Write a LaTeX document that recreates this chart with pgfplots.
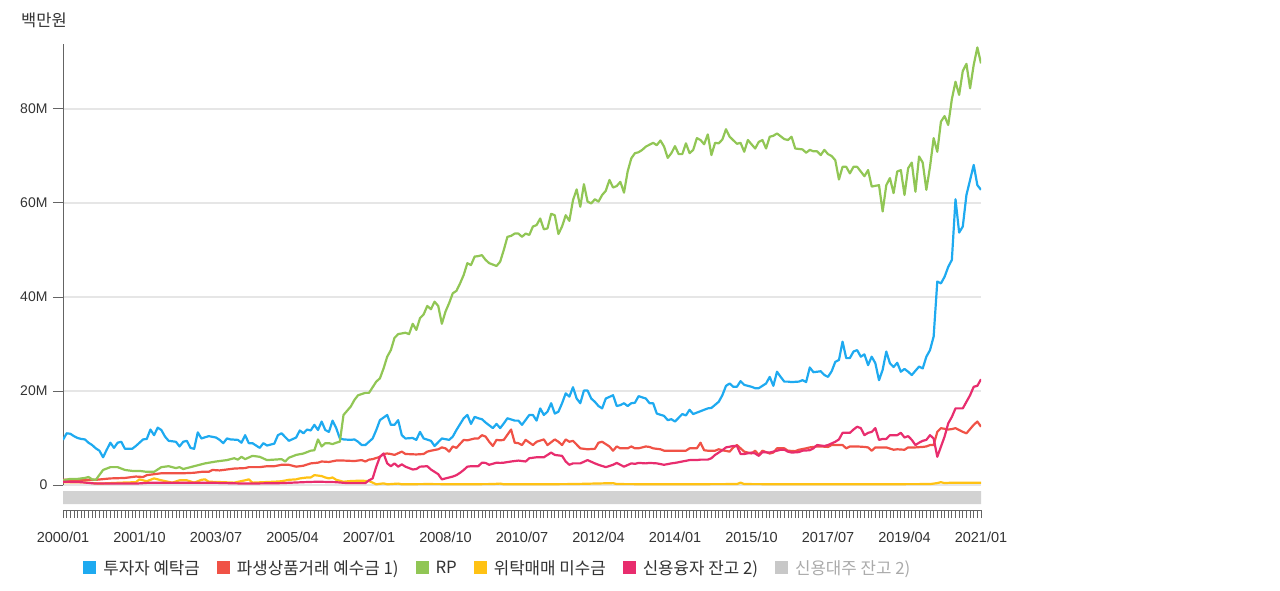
\documentclass[border=0pt]{standalone}
\usepackage{fontspec}
\setmainfont{Liberation Sans}
\newfontfamily\kr{Noto Sans CJK KR}
\usepackage{pgfplots}
\pgfplotsset{compat=1.18}
\definecolor{cblue}{RGB}{30,170,240}
\definecolor{cred}{RGB}{240,82,70}
\definecolor{cgreen}{RGB}{145,198,85}
\definecolor{cyellow}{RGB}{255,194,20}
\definecolor{cmag}{RGB}{232,45,110}
\definecolor{bandgray}{RGB}{210,210,210}
\definecolor{gridgray}{RGB}{230,230,230}
\definecolor{axisgray}{RGB}{100,100,100}
\definecolor{labelgray}{RGB}{51,51,51}
\definecolor{lgray}{RGB}{200,200,200}
\definecolor{ltext}{RGB}{170,170,170}
\begin{document}
\begin{tikzpicture}
\path[use as bounding box] (0,0) rectangle (1280pt,590pt);
\begin{axis}[
  at={(63pt,105pt)}, anchor=south west,
  scale only axis, width=918pt, height=441pt,
  xmin=0, xmax=252, ymin=0, ymax=93.83,
  axis y line*=left, axis x line=none,
  y axis line style={-, draw=axisgray, line width=1pt},
  ytick={0,20,40,60,80}, yticklabels={0,20M,40M,60M,80M},
  ymajorgrids, grid style={draw=gridgray, line width=1.2pt},
  tick align=outside, major tick length=10pt,
  ytick style={draw=axisgray, line width=1pt},
  yticklabel style={font=\fontsize{14pt}{14pt}\selectfont, text=labelgray, xshift=-2pt},
  ylabel={\kr 백만원},
  ylabel style={rotate=-90, at={(axis description cs:-0.0207,1.0544)}, anchor=center, font=\kr\fontsize{16.5pt}{16.5pt}\selectfont, text=labelgray},
  legend style={at={(axis description cs:0.0220,-0.1700)}, anchor=north west, draw=none, fill=none, inner sep=0pt,
    font=\kr\fontsize{16.8pt}{16.8pt}\selectfont, text=labelgray,
    /tikz/every odd column/.append style={column sep=7pt},
    /tikz/every even column/.append style={column sep=17pt},
    nodes={inner sep=0pt}},
  legend columns=-1,
  legend image code/.code={\fill[#1, draw=none] (0pt,-6.5pt) rectangle (13pt,6.5pt);},
  every axis plot/.append style={line width=2.2pt, line join=round},
]
\addplot[color=cblue] coordinates {(0,9.6)(1,11.0)(2,10.9)(3,10.4)(4,10.0)(5,9.8)(6,9.7)(7,9.0)(8,8.5)(9,7.8)(10,7.3)(11,5.9)(12,7.5)(13,9.0)(14,7.9)(15,9.0)(16,9.2)(17,7.7)(19,7.7)(20,8.3)(22,9.7)(23,9.8)(24,11.8)(25,10.6)(26,12.2)(27,11.7)(28,10.3)(29,9.4)(31,9.2)(32,8.2)(33,9.2)(34,9.4)(35,7.9)(36,7.7)(37,11.2)(38,9.9)(40,10.4)(42,10.1)(43,9.6)(44,8.9)(45,9.9)(46,9.7)(48,9.6)(49,9.0)(50,10.6)(51,8.9)(52,8.9)(54,7.9)(55,8.9)(56,8.4)(58,8.8)(59,10.6)(60,11.0)(62,9.4)(64,10.1)(65,11.6)(66,11.0)(67,11.8)(68,11.6)(69,12.8)(70,11.7)(71,13.5)(72,11.7)(73,11.3)(74,13.7)(75,12.1)(76,9.9)(77,9.7)(79,9.6)(80,9.7)(81,9.2)(82,8.5)(83,8.5)(85,9.9)(86,11.7)(87,13.8)(89,14.9)(90,12.8)(91,12.8)(92,13.8)(93,10.6)(94,9.9)(96,10.0)(97,9.6)(98,11.3)(99,9.9)(101,9.4)(102,8.3)(104,9.9)(106,9.6)(107,10.3)(108,11.7)(110,14.2)(111,14.9)(112,13.0)(113,14.5)(114,14.2)(115,14.0)(116,13.3)(118,12.1)(119,13.0)(120,12.1)(121,13.1)(122,14.2)(124,13.7)(125,13.7)(126,12.8)(128,14.9)(129,14.9)(130,13.7)(131,16.3)(132,14.9)(133,15.6)(134,17.4)(135,15.2)(136,15.6)(137,17.4)(138,19.5)(139,18.8)(140,20.8)(141,18.4)(142,17.4)(143,20.1)(144,20.1)(145,18.4)(146,17.7)(147,16.8)(148,16.3)(149,18.4)(151,19.1)(152,16.8)(153,17.0)(154,17.4)(155,16.8)(156,17.4)(157,17.5)(158,18.9)(160,18.4)(161,17.4)(162,17.4)(163,15.2)(165,14.7)(166,13.8)(167,14.0)(168,13.5)(170,15.1)(171,14.8)(172,16.0)(173,15.1)(175,15.7)(177,16.3)(178,16.4)(180,17.7)(181,19.1)(182,21.1)(183,21.6)(184,20.9)(185,20.9)(186,22.1)(187,21.3)(189,20.9)(190,20.6)(191,20.6)(193,21.6)(194,23.0)(195,21.1)(196,24.1)(197,23.0)(198,22.0)(199,22.0)(200,21.9)(202,22.0)(203,22.3)(204,21.9)(205,25.0)(206,24.0)(208,24.2)(209,23.4)(210,23.0)(211,24.2)(212,26.2)(213,26.6)(214,30.5)(215,27.0)(216,27.0)(217,28.4)(218,28.7)(219,27.3)(220,27.8)(221,25.5)(222,27.3)(223,25.9)(224,22.3)(225,24.5)(226,28.4)(227,25.9)(228,25.1)(229,26.0)(230,24.1)(231,24.7)(232,24.1)(233,23.4)(235,25.2)(236,24.8)(237,27.3)(238,28.7)(239,31.6)(240,43.3)(241,42.9)(242,44.3)(243,46.4)(244,47.9)(245,60.8)(246,53.7)(247,55.0)(248,61.7)(249,64.9)(250,68.1)(251,63.8)(252,62.8)};
\addlegendentry{투자자 예탁금}
\addplot[color=cred] coordinates {(0,1.1)(9,1.1)(13,1.4)(17,1.5)(20,1.8)(22,1.7)(23,2.1)(25,2.3)(27,2.5)(30,2.5)(33,2.5)(36,2.6)(38,2.8)(40,2.8)(41,3.2)(43,3.1)(45,3.3)(47,3.5)(50,3.6)(51,3.8)(54,3.8)(56,4.0)(58,4.0)(60,4.3)(62,4.3)(64,3.9)(66,4.1)(68,4.6)(70,4.75)(71,5.0)(73,4.9)(75,5.2)(77,5.2)(80,5.1)(82,5.3)(83,5.0)(84,5.4)(85,5.5)(87,6.0)(88,6.6)(89,6.7)(90,6.6)(91,6.4)(93,7.1)(94,6.6)(97,6.5)(99,6.6)(100,7.1)(101,7.3)(103,7.6)(104,8.0)(105,7.8)(106,7.1)(107,8.2)(108,7.9)(110,9.6)(111,9.5)(113,9.9)(114,9.9)(115,10.6)(116,10.3)(117,9.2)(118,8.3)(119,9.6)(120,9.5)(121,9.6)(123,11.8)(124,9.0)(125,8.9)(126,8.5)(127,9.6)(129,8.5)(130,9.2)(132,9.7)(133,8.5)(135,9.7)(136,9.2)(137,8.5)(138,9.7)(139,9.2)(140,9.4)(142,7.8)(144,7.6)(146,7.7)(147,9.0)(148,9.2)(150,8.2)(151,7.3)(152,8.2)(153,7.8)(155,7.8)(156,8.2)(157,7.8)(158,7.8)(160,8.2)(161,8.1)(162,7.8)(164,7.6)(165,7.3)(167,7.3)(169,7.3)(171,7.3)(172,7.8)(174,7.8)(175,9.0)(176,7.4)(177,7.3)(179,7.3)(180,7.6)(181,7.4)(183,7.1)(184,8.0)(185,8.5)(186,7.8)(187,7.1)(189,6.7)(190,7.3)(191,6.4)(192,7.3)(194,6.7)(195,6.9)(196,7.8)(198,7.8)(199,7.3)(201,7.2)(202,7.5)(204,7.8)(205,8.0)(207,8.2)(208,8.2)(210,8.1)(211,8.5)(212,8.5)(214,8.5)(215,7.8)(216,8.2)(218,8.2)(220,8.1)(221,8.0)(222,7.3)(223,8.0)(225,8.0)(226,8.0)(228,7.5)(229,7.6)(231,7.5)(232,8.0)(234,8.0)(236,8.1)(237,8.2)(238,8.5)(239,8.5)(240,11.3)(241,12.1)(243,11.8)(244,11.9)(245,12.1)(247,11.3)(248,11.0)(249,11.9)(250,12.8)(251,13.5)(252,12.4)};
\addlegendentry{파생상품거래 예수금 1)}
\addplot[color=cgreen] coordinates {(0,1.0)(2,1.3)(4,1.3)(6,1.5)(7,1.7)(8,1.2)(9,1.1)(11,3.2)(13,3.8)(15,3.8)(17,3.2)(19,3.0)(21,3.0)(23,2.8)(25,2.8)(27,3.8)(29,4.0)(31,3.6)(32,3.8)(33,3.4)(35,3.8)(38,4.4)(39,4.6)(42,5.0)(44,5.2)(45,5.3)(47,5.7)(48,5.4)(49,6.0)(50,5.5)(52,6.2)(54,6.0)(56,5.3)(58,5.4)(60,5.5)(61,5.0)(62,5.8)(64,6.4)(66,6.7)(68,7.3)(69,7.4)(70,9.7)(71,8.2)(72,8.9)(73,8.9)(74,8.7)(75,9.0)(76,9.2)(77,14.9)(79,16.7)(80,18.1)(81,19.1)(83,19.6)(84,19.6)(86,22.0)(87,22.7)(88,24.8)(89,27.3)(90,28.7)(91,31.3)(92,32.1)(94,32.4)(95,32.1)(96,34.3)(97,33.0)(98,35.5)(99,36.3)(100,38.1)(101,37.4)(102,39.0)(103,38.1)(104,34.3)(105,36.9)(106,38.7)(107,40.8)(108,41.3)(109,42.9)(110,44.7)(111,47.2)(112,46.8)(113,48.6)(114,48.7)(115,48.9)(116,47.9)(117,47.2)(119,46.6)(120,47.5)(121,50.0)(122,52.8)(123,53.0)(124,53.5)(125,53.5)(126,52.8)(127,53.5)(128,53.2)(129,55.0)(130,55.3)(131,56.7)(132,54.4)(133,54.6)(134,57.7)(135,57.4)(136,53.4)(137,55.0)(138,57.4)(139,56.2)(140,60.6)(141,62.9)(142,59.2)(143,64.0)(144,60.3)(145,59.9)(146,60.8)(147,60.3)(148,61.7)(149,62.6)(150,64.9)(151,63.3)(152,63.6)(153,64.5)(154,62.2)(155,66.7)(156,69.5)(157,70.6)(158,70.8)(159,71.3)(160,72.0)(162,72.8)(163,72.3)(164,73.3)(165,72.0)(166,69.6)(167,70.6)(168,72.1)(169,70.4)(170,70.4)(171,72.7)(172,70.6)(173,71.3)(174,73.8)(175,73.4)(176,72.5)(177,74.6)(178,70.2)(179,72.8)(180,72.7)(181,73.5)(182,75.7)(183,74.1)(185,72.6)(186,72.8)(187,70.9)(188,73.4)(190,71.6)(191,73.0)(192,73.4)(193,71.6)(194,74.1)(195,74.3)(196,74.8)(198,73.6)(199,73.4)(200,74.1)(201,71.6)(203,71.4)(204,70.7)(205,71.3)(206,71.0)(207,71.0)(208,70.2)(209,71.3)(210,70.4)(211,70.0)(212,69.1)(213,65.0)(214,67.7)(215,67.7)(216,66.3)(217,67.7)(218,67.7)(220,65.7)(221,67.0)(222,63.5)(224,63.8)(225,58.2)(226,63.8)(227,65.3)(228,62.1)(229,66.7)(230,67.0)(231,61.7)(232,67.4)(233,68.6)(234,62.4)(235,69.9)(236,68.6)(237,62.8)(238,67.7)(239,73.8)(240,70.9)(241,77.3)(242,78.5)(243,76.6)(244,82.1)(245,85.8)(246,83.0)(247,88.1)(248,89.6)(249,84.4)(250,89.4)(251,93.1)(252,89.7)};
\addlegendentry{RP}
\addplot[color=cyellow] coordinates {(0,0.6)(5,0.6)(10,0.3)(16,0.5)(20,0.6)(21,1.2)(23,0.8)(25,1.4)(27,1.0)(30,0.5)(32,1.0)(34,1.0)(36,0.5)(38,1.1)(39,1.2)(40,0.7)(44,0.6)(47,0.5)(50,1.0)(51,1.2)(52,0.5)(55,0.6)(58,0.7)(60,0.8)(62,1.1)(64,1.2)(65,1.4)(67,1.6)(68,1.6)(69,2.1)(71,1.9)(72,1.6)(73,1.4)(74,1.6)(75,1.1)(77,0.7)(79,0.85)(81,0.9)(82,0.9)(84,0.85)(85,0.5)(86,0.15)(88,0.35)(89,0.15)(92,0.3)(93,0.15)(100,0.2)(110,0.15)(118,0.2)(120,0.3)(121,0.15)(130,0.15)(140,0.2)(151,0.4)(152,0.2)(165,0.15)(185,0.2)(186,0.5)(187,0.2)(200,0.15)(220,0.15)(238,0.2)(240,0.4)(241,0.6)(242,0.4)(244,0.5)(252,0.5)};
\addlegendentry{위탁매매 미수금}
\addplot[color=cmag] coordinates {(0,0.7)(5,0.6)(9,0.3)(20,0.3)(24,0.5)(40,0.5)(50,0.3)(60,0.4)(66,0.6)(70,0.7)(75,0.6)(78,0.4)(83,0.4)(84,1.0)(85,1.4)(86,3.9)(87,6.0)(88,6.7)(89,4.6)(90,4.0)(91,4.6)(92,3.9)(93,4.4)(94,3.9)(96,3.3)(97,3.4)(98,3.9)(100,4.0)(101,3.3)(103,2.3)(104,1.2)(105,1.4)(107,1.8)(108,2.1)(109,2.6)(110,3.2)(111,3.9)(112,4.0)(114,4.0)(115,4.75)(116,4.7)(117,4.3)(119,4.75)(120,4.7)(121,4.75)(123,5.0)(125,5.2)(127,5.0)(128,5.7)(130,5.9)(132,5.9)(134,6.9)(135,6.4)(137,6.2)(138,5.0)(139,4.3)(140,4.6)(142,4.6)(144,5.3)(146,4.6)(147,4.3)(149,3.8)(151,4.3)(152,4.7)(153,4.3)(154,3.9)(156,4.6)(157,4.5)(158,4.7)(160,4.6)(161,4.7)(163,4.6)(165,4.3)(167,4.6)(168,4.7)(170,5.0)(172,5.3)(174,5.3)(175,5.4)(177,5.4)(178,5.7)(179,6.4)(181,7.4)(182,8.0)(184,8.3)(185,8.3)(186,6.6)(187,6.6)(189,6.9)(190,6.7)(191,6.2)(192,7.0)(194,6.9)(196,7.3)(197,7.5)(198,7.5)(199,7.1)(200,6.9)(202,7.0)(203,7.3)(205,7.4)(206,7.8)(207,8.5)(209,8.3)(210,8.5)(212,9.2)(213,9.7)(214,11.1)(216,11.1)(217,11.8)(218,12.4)(219,12.1)(220,10.6)(221,11.1)(222,11.3)(223,12.1)(224,9.6)(225,9.8)(226,9.8)(227,10.6)(229,10.6)(230,11.1)(231,10.1)(232,10.4)(233,9.6)(234,8.5)(235,9.0)(236,9.4)(237,9.6)(238,10.6)(239,9.9)(240,6.0)(242,10.3)(243,13.1)(244,14.5)(245,16.3)(247,16.3)(248,17.7)(249,19.1)(250,20.9)(251,21.1)(252,22.5)};
\addlegendentry{신용융자 잔고 2)}
\addlegendimage{color=lgray}
\addlegendentry{\textcolor{ltext}{신용대주 잔고 2)}}
\end{axis}
\begin{axis}[
  at={(63pt,80pt)}, anchor=south west,
  scale only axis, width=918pt, height=24pt,
  xmin=0, xmax=252, ymin=0, ymax=24,
  axis x line*=bottom, axis y line=none,
  x axis line style={-, draw=axisgray, line width=0.8pt},
  xtick={0,21,...,252}, minor xtick={0,1,...,252},
  xticklabels={2000/01,2001/10,2003/07,2005/04,2007/01,2008/10,2010/07,2012/04,2014/01,2015/10,2017/07,2019/04,2021/01},
  tick align=outside, major tick length=8pt, minor tick length=8pt,
  tick style={draw=axisgray, line width=0.8pt},
  xticklabel style={font=\fontsize{14.5pt}{14.5pt}\selectfont, text=labelgray, yshift=-10pt},
  clip=false,
]
\addplot[draw=none, fill=bandgray] coordinates {(0,6) (252,6) (252,19) (0,19) (0,6)};
\end{axis}
\end{tikzpicture}
\end{document}
